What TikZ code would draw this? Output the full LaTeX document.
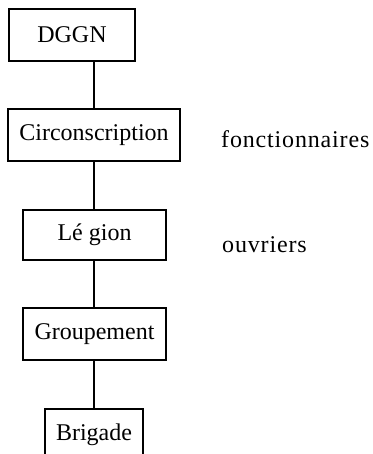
\documentclass[tikz,border=0pt]{standalone}
\usepackage{fontspec}
\setmainfont{Liberation Serif}
\begin{document}
\begin{tikzpicture}[x=1pt,y=-1pt,
  unit/.style={draw, line width=1.3pt, rectangle, inner sep=0pt,
    minimum height=52pt, font=\fontsize{24}{28}\selectfont},
  side/.style={inner sep=0pt, font=\fontsize{24}{28}\selectfont\addfontfeature{LetterSpace=3.5}},
  link/.style={line width=2pt}]
\useasboundingbox (0,0) rectangle (372,454);
\begin{scope}
\clip (0,0) rectangle (372,454);
\node[unit, minimum width=126pt] (dggn) at (72,35) {DGGN};
\node[unit, minimum width=172pt] (circ) at (94,135) {Circonscription};
\node[unit, minimum width=143pt, minimum height=50pt] (legion) at (94.5,235) {Lé gion};
\node[unit, minimum width=143pt] (grp) at (94.5,334) {Groupement};
\node[unit, minimum width=98pt] (brig) at (94,435) {Brigade};
\end{scope}
\node[side, anchor=base west] (fonc) at (221,148) {fonctionnaires};
\node[side, anchor=base west] (ouv) at (222,252) {ouvriers};
\draw[link] (circ.north -| 93.5,0) -- (dggn.south -| 93.5,0);
\draw[link] (circ.south -| 93.5,0) -- (legion.north -| 93.5,0);
\draw[link] (legion.south -| 93.5,0) -- (grp.north -| 93.5,0);
\draw[link] (grp.south -| 93.5,0) -- (brig.north -| 93.5,0);
\end{tikzpicture}
\end{document}
